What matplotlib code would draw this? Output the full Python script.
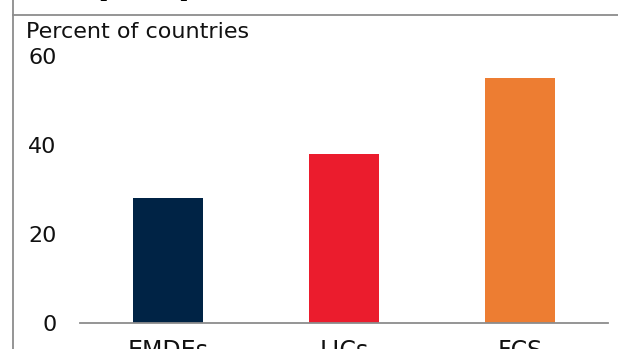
import matplotlib.pyplot as plt
from matplotlib.lines import Line2D

# data
categories = ["EMDEs", "LICs", "FCS"]
shares = [28, 38, 55]
bar_colors = ["#002345", "#EB1C2D", "#ED7D32"]
y_ticks = [0, 20, 40, 60]

W, H = 618, 349
fig = plt.figure(figsize=(W / 100, H / 100), dpi=100)
ax = fig.add_axes([80 / W, (H - 322.7) / H, 528 / W, 266.7 / H])

ax.bar(range(len(categories)), shares, width=0.4, color=bar_colors, zorder=2)
ax.set_xlim(-0.5, 2.5)
ax.set_ylim(0, 60)
ax.set_yticks(y_ticks)
ax.set_xticks(range(len(categories)))
ax.set_xticklabels(categories)

for side in ["top", "right", "left"]:
    ax.spines[side].set_visible(False)
ax.spines["bottom"].set_color("#8c8c8c")
ax.spines["bottom"].set_linewidth(1.3)
ax.tick_params(axis="both", length=0, labelsize=16, labelcolor="#111111")
ax.tick_params(axis="y", pad=17)
ax.tick_params(axis="x", pad=12, labelsize=17)
for lab in ax.get_xticklabels() + ax.get_yticklabels():
    lab.set_family("DejaVu Sans")

# panel frame and cut-off panel title
fig.add_artist(Line2D([13 / W, 13 / W], [0, 1], color="#8c8c8c", lw=1.3))
fig.add_artist(Line2D([13 / W, 1], [1 - 15 / H, 1 - 15 / H], color="#8c8c8c", lw=1.3))
fig.text(44 / W, 1 + 3.5 / H, "B. Impact on prices", family="Liberation Serif",
         weight="bold", fontsize=17, va="baseline", ha="left")

fig.text(26 / W, 1 - 38 / H, "Percent of countries", family="DejaVu Sans",
         fontsize=16, va="baseline", ha="left", color="#111111")

fig.savefig("out.png", dpi=100)
